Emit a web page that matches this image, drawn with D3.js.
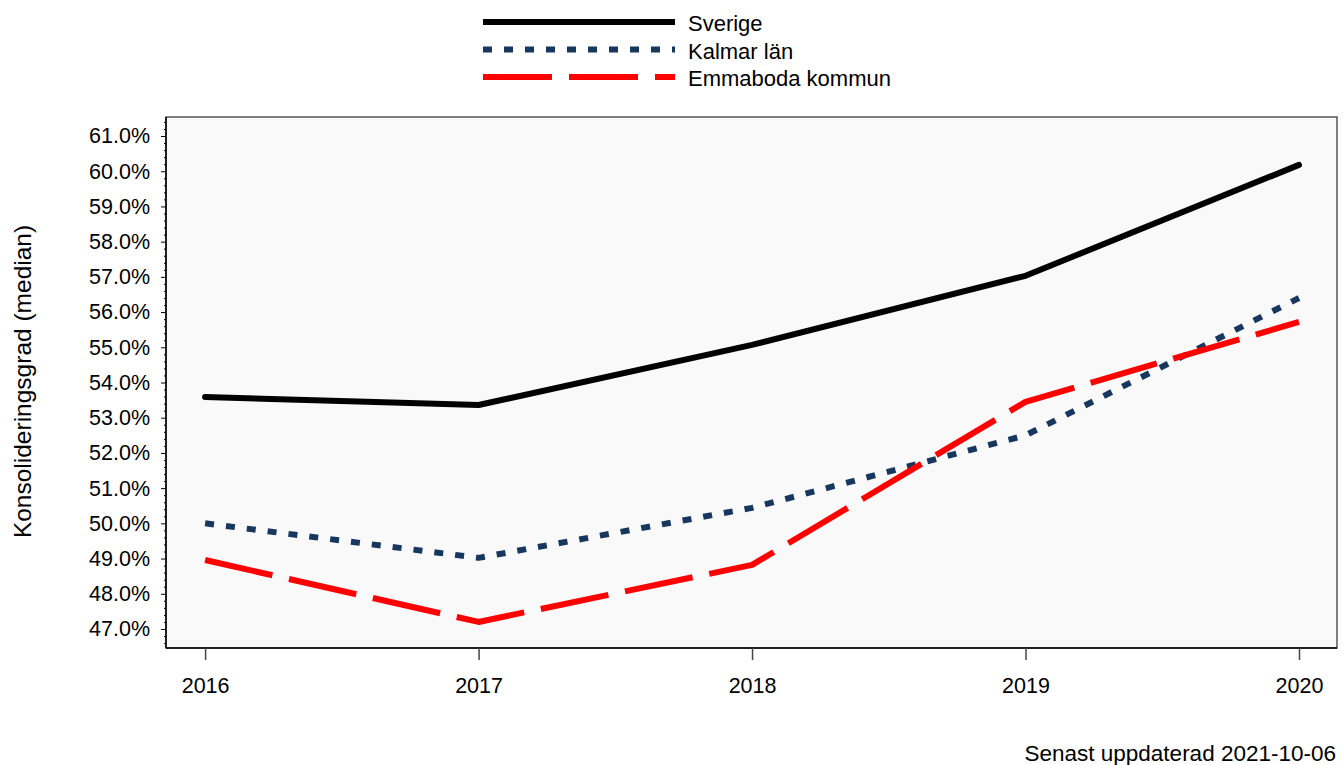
<!DOCTYPE html>
<html>
<head>
<meta charset="utf-8">
<script src="https://cdn.jsdelivr.net/npm/d3@7"></script>
<style>
  body { margin: 0; background: #fff; }
  text { font-family: "Liberation Sans", Arial, sans-serif; fill: #000; }
</style>
</head>
<body>
<div id="chart"></div>
<script>
// values
var years = [2016, 2017, 2018, 2019, 2020];
var sverige = [53.59, 53.36, 55.07, 57.03, 60.18];
var kalmar = [50.0, 49.02, 50.44, 52.5, 56.4];
var emmaboda = [48.96, 47.2, 48.82, 53.45, 55.72];
var yTicks = [47, 48, 49, 50, 51, 52, 53, 54, 55, 56, 57, 58, 59, 60, 61];
var seriesNames = ["Sverige", "Kalmar län", "Emmaboda kommun"];

var W = 1344, H = 765;
var margin = { top: 117, right: 7, bottom: 117, left: 166 };
var width = W - margin.left - margin.right,
    height = H - margin.top - margin.bottom;

var svg = d3.select("#chart").append("svg")
    .attr("width", W)
    .attr("height", H);

var g = svg.append("g")
    .attr("transform", "translate(" + margin.left + "," + margin.top + ")");

var x = d3.scaleLinear()
    .domain([2015.857, 2020.139])
    .range([0, width]);

var y = d3.scaleLinear()
    .domain([46.46, 61.54])
    .range([height, 0]);

// panel
g.append("rect")
    .attr("width", width)
    .attr("height", height)
    .attr("fill", "#f9f9f9")
    .attr("stroke", "#555")
    .attr("stroke-width", 1.5);

// minor y ticks
var minor = d3.range(46.6, 61.5, 0.2).filter(function (v) {
  return Math.abs(v - Math.round(v)) > 0.05;
});
g.append("g")
    .call(d3.axisLeft(y).tickValues(minor).tickSize(2).tickFormat(""))
    .call(function (a) { a.select(".domain").remove(); });

var gy = g.append("g")
    .call(d3.axisLeft(y).tickValues(yTicks).tickSize(5).tickPadding(11)
      .tickFormat(function (d) { return d.toFixed(1) + "%"; }));
gy.select(".domain").attr("d", "M0," + height + "V0").attr("stroke-width", 1.5);
gy.selectAll("text").style("font-size", "21.5px");

var gx = g.append("g")
    .attr("transform", "translate(0," + height + ")")
    .call(d3.axisBottom(x).tickValues(years).tickSize(12).tickPadding(18)
      .tickFormat(d3.format("d")));
gx.select(".domain").attr("d", "M0,0H" + width).attr("stroke-width", 1.5);
gx.selectAll(".tick line").attr("stroke", "#444").attr("stroke-width", 1.5);
gx.selectAll("text").style("font-size", "21.5px");

var line = d3.line()
    .x(function (d, i) { return x(years[i]); })
    .y(function (d) { return y(d); });

var styles = [
  { data: sverige, color: "#000000", dash: null },
  { data: kalmar, color: "#17375e", dash: "9,12" },
  { data: emmaboda, color: "#ff0000", dash: "69,17" }
];

styles.forEach(function (s) {
  g.append("path")
      .datum(s.data)
      .attr("fill", "none")
      .attr("stroke", s.color)
      .attr("stroke-width", 6)
      .attr("stroke-linejoin", "round")
      .attr("stroke-linecap", s.dash ? "butt" : "round")
      .attr("stroke-dasharray", s.dash)
      .attr("d", line);
});

// legend
var legend = svg.append("g").attr("transform", "translate(483,22)");
styles.forEach(function (s, i) {
  var row = legend.append("g").attr("transform", "translate(0," + (i * 27.5) + ")");
  row.append("line")
      .attr("x1", 0).attr("x2", 192)
      .attr("stroke", s.color)
      .attr("stroke-width", 6)
      .attr("stroke-dasharray", s.dash);
  row.append("text")
      .attr("x", 205)
      .attr("y", 9)
      .style("font-size", "22px")
      .text(seriesNames[i]);
});

// axis title
svg.append("text")
    .attr("transform", "translate(31," + (margin.top + height / 2 - 1) + ") rotate(-90)")
    .attr("text-anchor", "middle")
    .style("font-size", "24.5px")
    .text("Konsolideringsgrad (median)");

// footer
svg.append("text")
    .attr("x", 1336)
    .attr("y", 761)
    .attr("text-anchor", "end")
    .style("font-size", "22.5px")
    .text("Senast uppdaterad 2021-10-06");
</script>
</body>
</html>
